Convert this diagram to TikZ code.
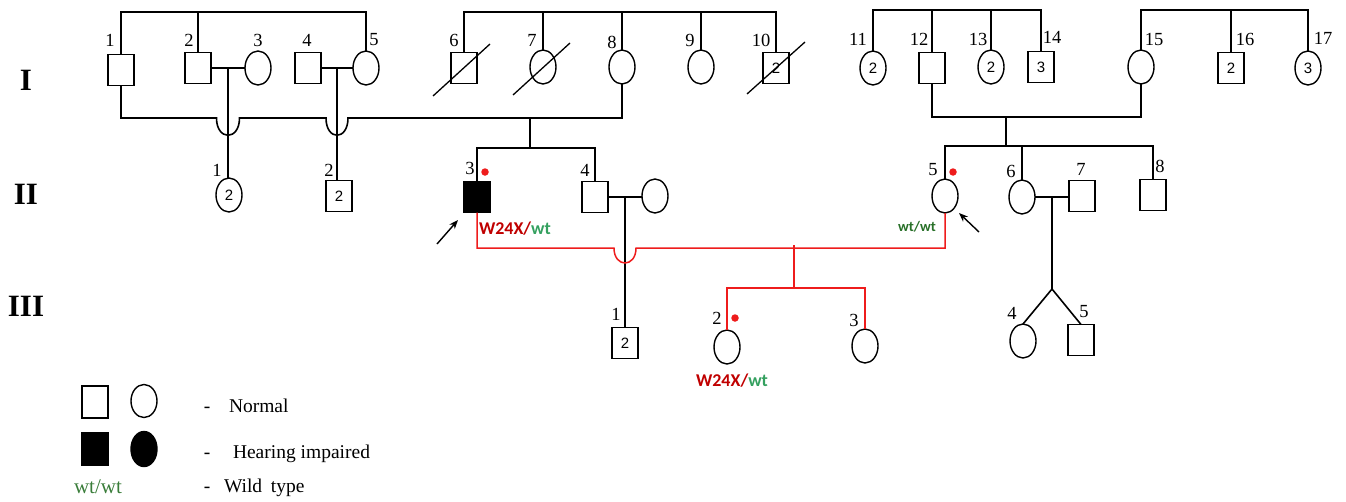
\documentclass[tikz,border=0pt]{standalone}
\usepackage{fontspec}
\setmainfont{Liberation Serif}
\newfontfamily\numfont{Liberation Sans}
\newfontfamily\genofont{Carlito}
\usetikzlibrary{calc,shapes.geometric,arrows.meta}
\definecolor{pedred}{RGB}{238,28,28}
\definecolor{mutred}{RGB}{192,0,0}
\definecolor{wtgreen}{RGB}{52,160,95}
\definecolor{dkgreen}{RGB}{40,112,40}
\definecolor{lggreen}{RGB}{58,125,58}
\begin{document}
\begin{tikzpicture}[x=1pt,y=-1pt,
  every node/.style={inner sep=0pt,outer sep=0pt},
  male/.style={draw,line width=1.4pt,rectangle,minimum width=26pt,minimum height=31pt,font=\numfont\fontsize{15}{15}\selectfont},
  female/.style={draw,line width=1.4pt,ellipse,minimum width=26pt,minimum height=34pt,font=\numfont\fontsize{15}{15}\selectfont},
  affected/.style={fill=black},
  num/.style={font=\fontsize{18.5}{18.5}\selectfont},
  gen/.style={font=\bfseries\fontsize{31}{31}\selectfont},
  rel/.style={line width=1.6pt},
  redrel/.style={line width=1.5pt,draw=pedred},
  slash/.style={line width=1.3pt},
  pointer/.style={line width=1.4pt,-{Stealth[length=9pt,width=7pt]}},
  reddot/.style={circle,fill=pedred,minimum size=7.5pt},
  geno/.style={font=\genofont\bfseries\fontsize{18}{18}\selectfont},
  legtext/.style={font=\fontsize{19.5}{19.5}\selectfont,anchor=base west}
]
\useasboundingbox (0,0) rectangle (1346,501);

% generation labels
\node[gen] (gI) at (26,80) {I};
\node[gen] (gII) at (26,194) {II};
\node[gen] (gIII) at (26,306) {III};

% helper levels
\coordinate (t1) at (0,12);
\coordinate (t3) at (0,10);
\coordinate (y117) at (0,117);
\coordinate (y118) at (0,118);
\coordinate (y146) at (0,146);
\coordinate (y148) at (0,148);
\coordinate (y248) at (0,248);
\coordinate (y288) at (0,288);
\coordinate (y289) at (0,289);

% ---------- Generation I ----------
\node[male] (i1) at (121,70) {};
\node[male] (i2) at (198,68) {};
\node[female] (i3) at (258,68) {};
\node[male] (i4) at (308,68) {};
\node[female] (i5) at (366,68) {};

\node[male] (i6) at (464,68) {};
\node[female] (i7) at (543,67) {};
\node[female] (i8) at (622,67) {};
\node[female] (i9) at (701,67) {};
\node[male] (i10) at (776,68) {2};

\node[female] (i11) at (873,68) {2};
\node[male] (i12) at (932,68) {};
\node[female] (i13) at (991,67) {2};
\node[male] (i14) at (1041,67) {3};
\node[female] (i15) at (1141,67) {};
\node[male] (i16) at (1231,68) {2};
\node[female] (i17) at (1308,68) {3};

% ---------- Generation II ----------
\node[female] (ii1) at (229,195) {2};
\node[male] (ii2) at (339,196) {2};
\node[male,affected] (ii3) at (477,197) {};
\node[male] (ii4) at (595,197) {};
\node[female] (ii4w) at (655,196) {};
\node[female] (ii5) at (945,196) {};
\node[female] (ii6) at (1022,197) {};
\node[male] (ii7) at (1082,196) {};
\node[male] (ii8) at (1153,195) {};

% ---------- Generation III ----------
\node[male] (iii1) at (625,343) {2};
\node[female] (iii2) at (727,347) {};
\node[female] (iii3) at (865,346) {};
\node[female] (iii4) at (1023,341) {};
\node[male] (iii5) at (1081,340) {};

% ---------- number labels ----------
\node[num] (l-i1) at (110,40) {1};
\node[num] (l-i2) at (189,40) {2};
\node[num] (l-i3) at (258,40) {3};
\node[num] (l-i4) at (307,40) {4};
\node[num] (l-i5) at (374,40) {5};
\node[num] (l-i6) at (454,40) {6};
\node[num] (l-i7) at (532,40) {7};
\node[num] (l-i8) at (612,42) {8};
\node[num] (l-i9) at (690,40) {9};
\node[num] (l-i10) at (761,40) {10};
\node[num] (l-i11) at (858,39) {11};
\node[num] (l-i12) at (919,39) {12};
\node[num] (l-i13) at (978,39) {13};
\node[num] (l-i14) at (1052,37) {14};
\node[num] (l-i15) at (1154,39) {15};
\node[num] (l-i16) at (1245,39) {16};
\node[num] (l-i17) at (1323,38) {17};
\node[num] (l-ii1) at (217,170) {1};
\node[num] (l-ii2) at (329,170) {2};
\node[num] (l-ii3) at (470,168) {3};
\node[num] (l-ii4) at (585,170) {4};
\node[num] (l-ii5) at (933,170) {5};
\node[num] (l-ii6) at (1011,171) {6};
\node[num] (l-ii7) at (1081,169) {7};
\node[num] (l-ii8) at (1160,166) {8};
\node[num] (l-iii1) at (616,314) {1};
\node[num] (l-iii2) at (717,318) {2};
\node[num] (l-iii3) at (854,320) {3};
\node[num] (l-iii4) at (1012,313) {4};
\node[num] (l-iii5) at (1084,312) {5};

% ---------- deceased slashes ----------
\draw[slash] ($(i6)+(-31,28)$) -- ($(i6)+(26,-24)$);
\draw[slash] ($(i7)+(-30,28)$) -- ($(i7)+(27,-24)$);
\draw[slash] ($(i10)+(-29,26)$) -- ($(i10)+(29,-26)$);

% ---------- sibship lines gen I ----------
\draw[rel] (i1.north) -- (i1.north |- t1) -| (i5.north);
\draw[rel] (i2.north) -- (i2.north |- t1);
\draw[rel] (i6.north) -- (i6.north |- t1) -| (i10.north);
\draw[rel] (i7.north) -- (i7.north |- t1);
\draw[rel] (i8.north) -- (i8.north |- t1);
\draw[rel] (i9.north) -- (i9.north |- t1);
\draw[rel] (i11.north) -- (i11.north |- t3) -| (i14.north);
\draw[rel] (i12.north) -- (i12.north |- t3);
\draw[rel] (i13.north) -- (i13.north |- t3);
\draw[rel] (i15.north) -- (i15.north |- t3) -| (i17.north);
\draw[rel] (i16.north) -- (i16.north |- t3);

% ---------- marriages gen I ----------
\draw[rel] (i2.east) -- coordinate (m23) (i3.west);
\draw[rel] (i4.east) -- coordinate (m45) (i5.west);
\draw[rel] (m23) -- (m23 |- ii1.north);
\draw[rel] (m45) -- (m45 |- ii2.north);
\draw[rel] (i1.south) |- ($(m23 |- y118)+(-11.5,0)$)
  .. controls +(0,23) and +(0,23) .. ($(m23 |- y118)+(11.5,0)$)
  -- ($(m45 |- y118)+(-11,0)$)
  .. controls +(0,23) and +(0,23) .. ($(m45 |- y118)+(11,0)$)
  -| (i8.south);
\coordinate (c18) at (530,118);
\draw[rel] (c18) -- (c18 |- y148);
\draw[rel] (ii3.north) -- (ii3.north |- y148) -| (ii4.north);

\draw[rel] (i12.south) -- (i12.south |- y117) -| (i15.south);
\coordinate (c1215) at (1006,116);
\draw[rel] (c1215) -- (c1215 |- y146);
\draw[rel] (ii5.north) -- (ii5.north |- y146) -| (ii8.north);
\draw[rel] (ii6.north) -- (ii6.north |- y146);

% ---------- marriages gen II ----------
\draw[rel] (ii4.east) -- coordinate (m4) (ii4.east -| ii4w.west);
\draw[rel] (m4) -- (m4 |- iii1.north);
\draw[redrel] (ii3.south) |- ($(m4 |- y248)+(-11,0)$)
  .. controls +(0,20) and +(0,20) .. ($(m4 |- y248)+(11,0)$)
  -| (ii5.south);
\coordinate (c35) at (794,245);
\draw[redrel] (c35) -- (c35 |- y288);
\draw[redrel] (iii2.north) -- (iii2.north |- y288) -| (iii3.north);

\draw[rel] (ii6.east) -- coordinate (m67) (ii6.east -| ii7.west);
\draw[rel] (m67) -- (m67 |- y289) coordinate (tw);
\draw[rel] (iii4.north) -- (tw) -- (iii5.north);

% ---------- red dots ----------
\node[reddot] (d-ii3) at (485,172) {};
\node[reddot] (d-ii5) at (953,172) {};
\node[reddot] (d-iii2) at (735,318) {};

% ---------- proband arrows ----------
\coordinate (a3s) at (437,244);
\coordinate (a3e) at (458,220);
\draw[pointer] (a3s) -- (a3e);
\coordinate (a5s) at (979,232);
\coordinate (a5e) at (959,213);
\draw[pointer] (a5s) -- (a5e);

% ---------- genotypes ----------
\node[geno,anchor=west] (g-ii3) at (479,229) {\textcolor{mutred}{W24X/}\textcolor{wtgreen}{wt}};
\node[geno,font=\genofont\bfseries\fontsize{14.5}{14.5}\selectfont,text=dkgreen] (g-ii5) at (917,227) {wt/wt};
\node[geno] (g-iii2) at (732,381) {\textcolor{mutred}{W24X/}\textcolor{wtgreen}{wt}};

% ---------- legend ----------
\node[male,minimum height=32pt] (lg-m) at (95,402) {};
\node[female,minimum height=33pt] (lg-f) at (144,401) {};
\node[male,affected,minimum height=33pt] (lg-am) at (95,449) {};
\node[female,affected,minimum height=35pt] (lg-af) at (144,449) {};
\node[legtext,anchor=base] (lg-d1) at (207,412) {-};
\node[legtext,anchor=base] (lg-d2) at (207,458) {-};
\node[legtext,anchor=base] (lg-d3) at (207,492) {-};
\node[legtext] (lg-t1) at (229,412) {Normal};
\node[legtext] (lg-t2) at (233,458) {Hearing impaired};
\node[legtext] (lg-t3) at (224,492) {Wild\hspace{0.45em}type};
\node[legtext,font=\fontsize{21}{21}\selectfont,text=lggreen] (lg-wt) at (74,493) {wt/wt};
\end{tikzpicture}
\end{document}
